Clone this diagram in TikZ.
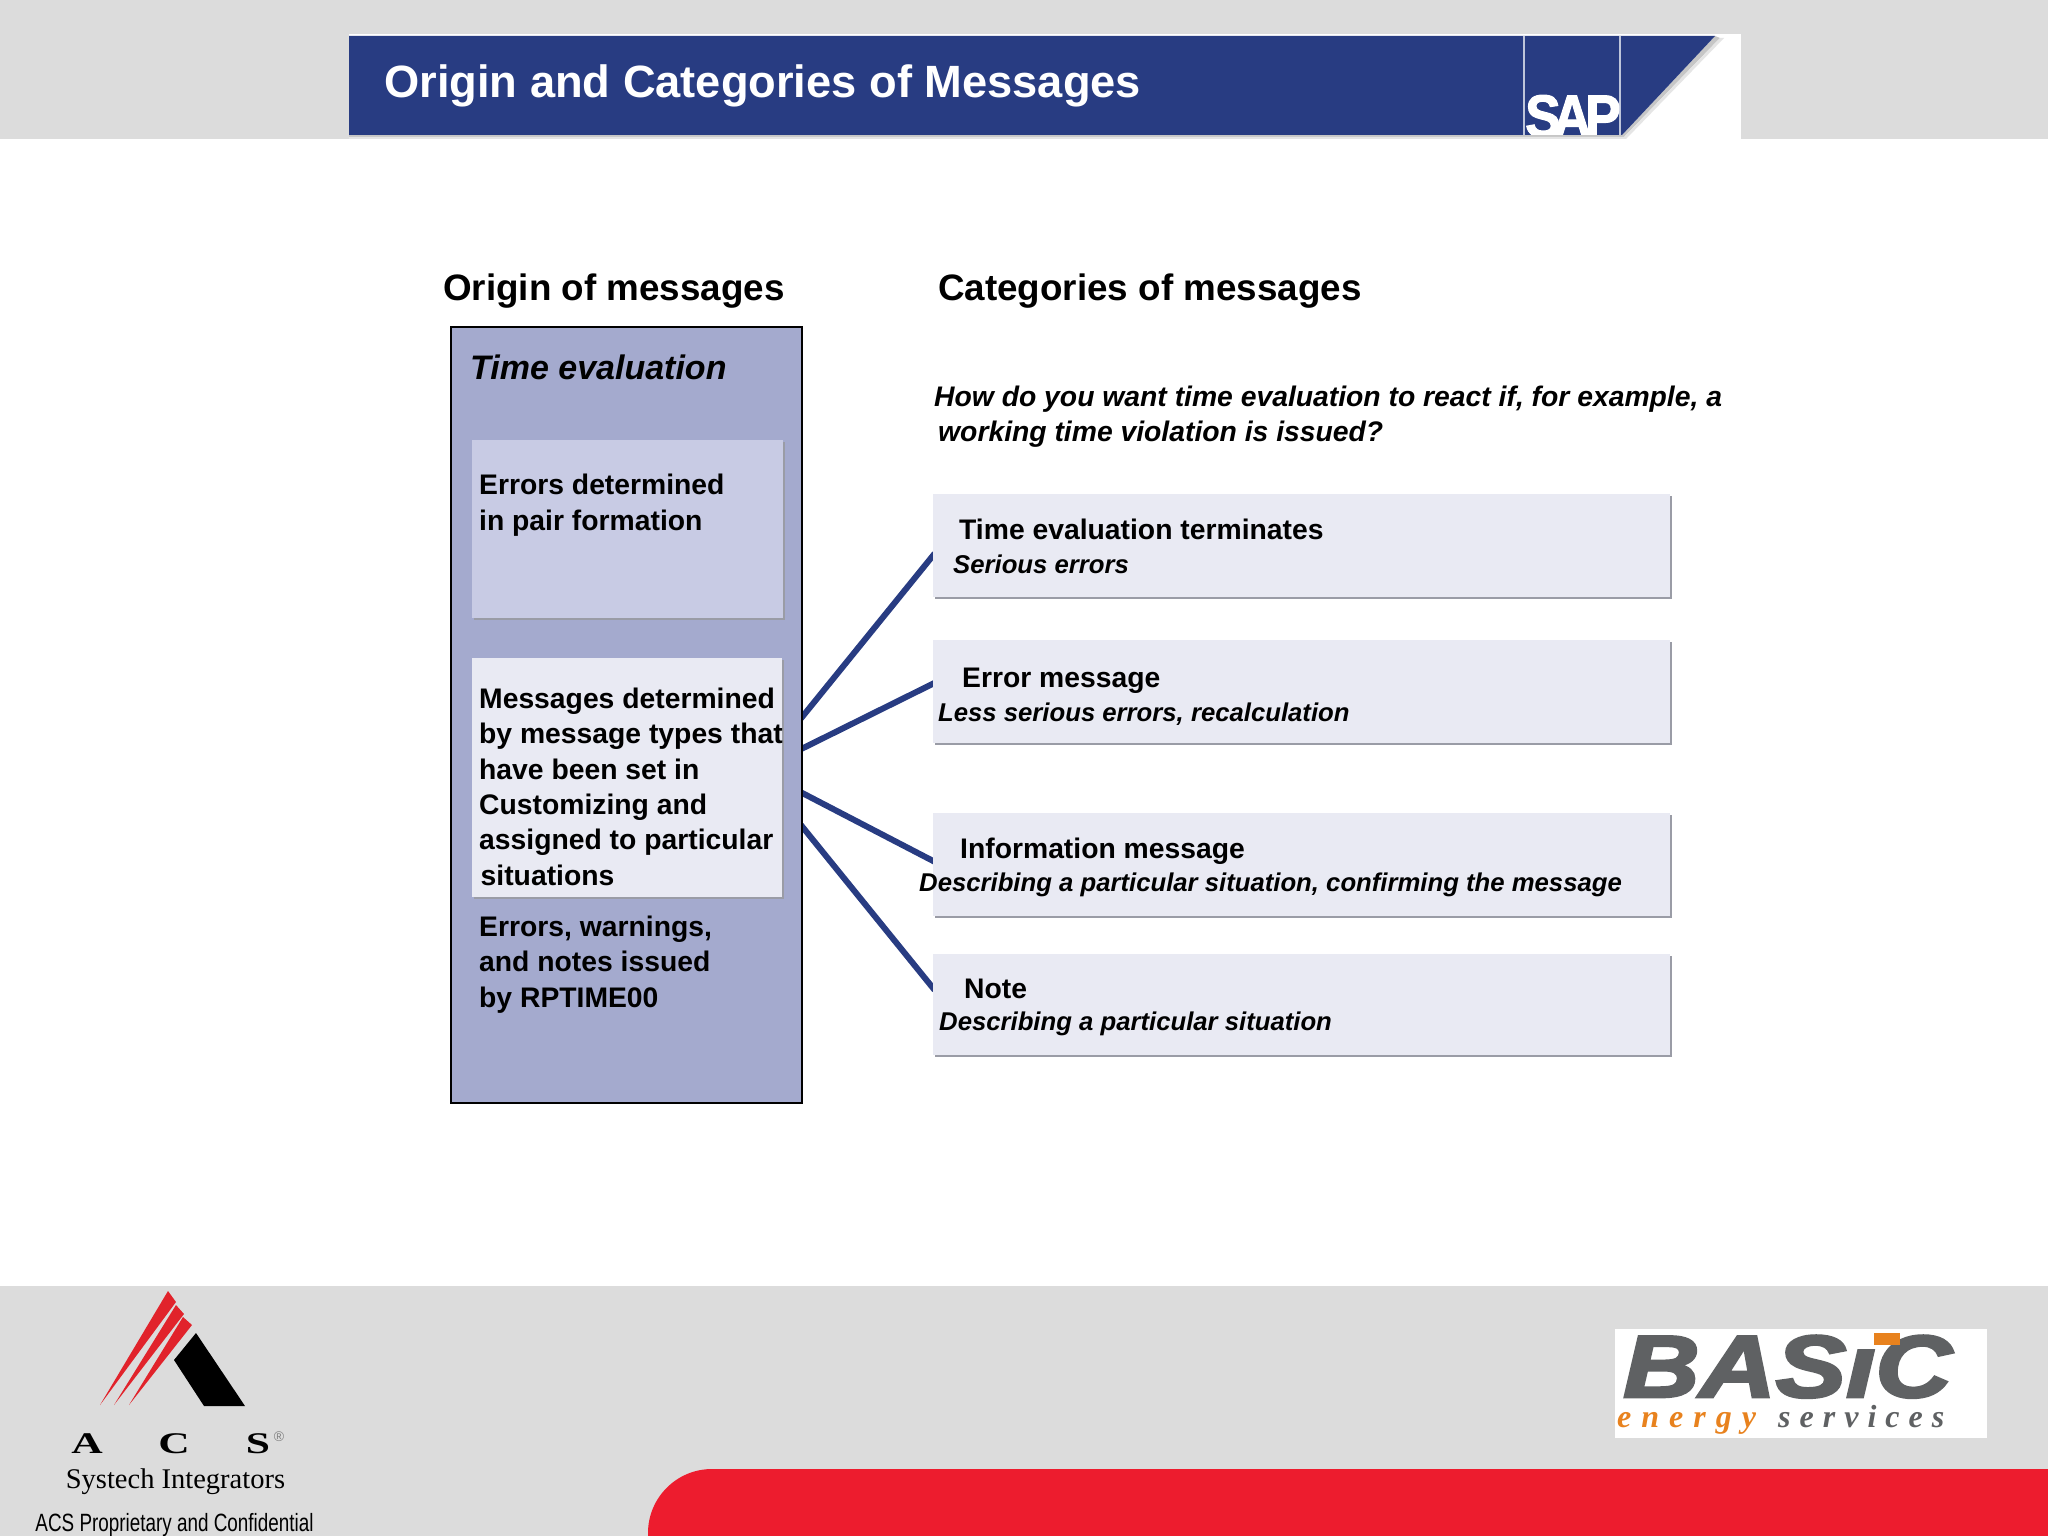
\documentclass[tikz,border=0pt]{standalone}
\usepackage{fontspec}
\setmainfont{Liberation Sans}
\newfontfamily\serifface{Liberation Serif}
\newfontfamily\sapface[FakeBold=2]{Liberation Sans Bold}
\newfontfamily\basicface[FakeBold=3]{Liberation Sans Bold Italic}
\usetikzlibrary{calc,shadows,backgrounds}
\definecolor{bandgray}{HTML}{DCDCDC}
\definecolor{sapblue}{HTML}{283C82}
\definecolor{panelblue}{HTML}{A4AACE}
\definecolor{midbox}{HTML}{C8CBE4}
\definecolor{lightbox}{HTML}{E9EAF3}
\definecolor{edgegray}{HTML}{9A9CA6}
\definecolor{acsred}{HTML}{E1232B}
\definecolor{bandred}{HTML}{ED1C2E}
\definecolor{basicgray}{HTML}{5F6163}
\definecolor{basicorange}{HTML}{E8821E}
\tikzset{
  x=1pt,y=-1pt,
  txt/.style={anchor=base west,inner sep=0pt,text=black},
  multi/.style={anchor=north west,inner sep=0pt,text=black,align=left},
  bodyfont/.style={font=\fontsize{28.3}{35.4}\selectfont\bfseries},
  itfont/.style={font=\fontsize{25.7}{30}\selectfont\bfseries\itshape},
  headfont/.style={font=\fontsize{36.8}{42}\selectfont\bfseries},
  softbox/.style={inner sep=0pt,draw=none,drop shadow={shadow xshift=2pt,shadow yshift=-2pt,fill=edgegray,opacity=1}},
  link/.style={draw=sapblue,line width=6pt,shorten <=-3pt,shorten >=-3pt},
}
\begin{document}
\begin{tikzpicture}
\useasboundingbox (0,0) rectangle (2048,1536);
% bands
\fill[bandgray] (0,0) rectangle (2048,139);
\fill[bandgray] (0,1286) rectangle (2048,1536);
\fill[white] (349,34) rectangle (1741,139);
\fill[bandred] (2048,1469) -- (712,1469) arc[start angle=270,end angle=180,radius=64] -- (648,1536) -- (2048,1536) -- cycle;
% title bar
\fill[gray!45] (349,137) -- (1624,137) -- (1720,38) -- (1715,36) -- (1622,135) -- (349,135) -- cycle;
\fill[gray!20] (349,139) -- (1626,139) -- (1724,38) -- (1720,38) -- (1624,137) -- (349,137) -- cycle;
\fill[sapblue] (349,36) -- (1715,36) -- (1622,135) -- (349,135) -- cycle;
\draw[white!70!sapblue,line width=1.5pt] (1524,36) -- (1524,135);
\draw[white!70!sapblue,line width=1.5pt] (1620,36) -- (1620,135);
\begin{scope}
\clip (1524,36) rectangle (1621,135);
\node[anchor=base west,inner sep=0pt,text=white,font=\sapface\fontsize{60}{60}\selectfont,xscale=.89] (saplogo) at (1525,137) {S\kern-9pt A\kern-7pt P};
\end{scope}
\node[txt,text=white,font=\fontsize{45.25}{50}\selectfont\bfseries] (title) at (384,98) {Origin and Categories of Messages};
% headings
\node[txt,headfont] (hleft) at (443,300) {Origin of messages};
\node[txt,headfont] (hright) at (938,300) {Categories of messages};
% left panel
\node[draw=black,line width=1.5pt,fill=panelblue,minimum width=351pt,minimum height=776pt,inner sep=0pt] (panel) at (626.5,715) {};
\node[txt,font=\fontsize{34}{40}\selectfont\bfseries\itshape] (timeeval) at (470,379) {Time evaluation};
\node[softbox,fill=midbox,minimum width=311pt,minimum height=178pt] (pairbox) at (627.5,529) {};
\node[softbox,fill=lightbox,minimum width=310pt,minimum height=239pt] (msgbox) at (627,777.5) {};
\node[multi,bodyfont] (pairtxt) at (479,474) {Errors determined\\in pair formation};
\node[multi,bodyfont] (msgtxt) at (479,687.5) {Messages determined\\by message types that\\have been set in\\Customizing and\\assigned to particular\\\hspace*{1.5pt}situations};
\node[multi,bodyfont] (rptxt) at (479,915.5) {Errors, warnings,\\and notes issued\\by RPTIME00};
% question
\node[multi,font=\fontsize{28.3}{35.2}\selectfont\bfseries\itshape] (question) at (934,386) {How do you want time evaluation to react if, for example, a\\\hspace*{4pt}working time violation is issued?};
% right boxes
\node[softbox,fill=lightbox,minimum width=737pt,minimum height=103pt] (r1) at (1301.5,545.5) {};
\node[softbox,fill=lightbox,minimum width=737pt,minimum height=103pt] (r2) at (1301.5,691.5) {};
\node[softbox,fill=lightbox,minimum width=737pt,minimum height=103pt] (r3) at (1301.5,864.5) {};
\node[softbox,fill=lightbox,minimum width=737pt,minimum height=101pt] (r4) at (1301.5,1004.5) {};
\node[txt,bodyfont] (r1a) at (959,539) {Time evaluation terminates};
\node[txt,itfont] (r1b) at (953,573) {Serious errors};
\node[txt,bodyfont] (r2a) at (962,687) {Error message};
\node[txt,itfont] (r2b) at (938,721) {Less serious errors, recalculation};
\node[txt,bodyfont] (r3a) at (960,858) {Information message};
\node[txt,itfont] (r3b) at (919,891) {Describing a particular situation, confirming the message};
\node[txt,bodyfont] (r4a) at (964,998) {Note};
\node[txt,itfont] (r4b) at (939,1030) {Describing a particular situation};
% connectors, behind the panel and the boxes
\begin{scope}[on background layer]
\draw[link] ($(panel.north east)+(0,390)$) -- ($(r1.north west)+(0,62)$);
\draw[link] ($(panel.north east)+(0,422)$) -- ($(r2.north west)+(0,44)$);
\draw[link] ($(panel.north east)+(0,467)$) -- ($(r3.north west)+(0,48)$);
\draw[link] ($(panel.north east)+(0,501)$) -- ($(r4.north west)+(0,34)$);
\end{scope}
% ACS logo
\fill[acsred] (100,1405) -- (168,1291) -- (176,1302) -- cycle;
\fill[acsred] (114,1405) -- (176,1305) -- (184,1314) -- cycle;
\fill[acsred] (129,1405) -- (183,1317) -- (192,1325) -- cycle;
\fill[black] (196,1333) -- (245,1406) -- (204,1406) -- (174,1360) -- cycle;
\node[anchor=base,inner sep=0pt,font=\serifface\fontsize{30}{30}\selectfont\bfseries,xscale=1.45] (acsa) at (87,1453) {A};
\node[anchor=base,inner sep=0pt,font=\serifface\fontsize{30}{30}\selectfont\bfseries,xscale=1.45] (acsc) at (174,1453) {C};
\node[anchor=base,inner sep=0pt,font=\serifface\fontsize{30}{30}\selectfont\bfseries,xscale=1.45] (acss) at (258,1453) {S};
\node[anchor=center,inner sep=0pt,text=gray,font=\fontsize{14}{14}\selectfont] (acsr) at (279,1437) {®};
\node[anchor=base,inner sep=0pt,font=\serifface\fontsize{28.5}{32}\selectfont] (systech) at (175.5,1488) {Systech Integrators};
\node[anchor=base,inner sep=0pt,font=\fontsize{25}{28}\selectfont,xscale=.755] (conf) at (174.5,1531) {ACS Proprietary and Confidential};
% BASIC logo
\fill[white] (1615,1329) rectangle (1987,1438);
\node[anchor=base west,inner sep=0pt,text=basicgray,font=\basicface\fontsize{88}{88}\selectfont,xscale=1.2] (basic) at (1623,1397) {BASıC};
\fill[basicorange] (1874,1333) rectangle (1900,1345);
\node[anchor=base west,inner sep=0pt,text=basicorange,font=\serifface\fontsize{32}{32}\selectfont\bfseries\itshape] (energy) at (1617,1427) {e\hspace{10pt}n\hspace{10pt}e\hspace{10pt}r\hspace{10pt}g\hspace{10pt}y};
\node[anchor=base west,inner sep=0pt,text=basicgray,font=\serifface\fontsize{32}{32}\selectfont\bfseries\itshape] (services) at (1778,1427) {s\hspace{9pt}e\hspace{9pt}r\hspace{9pt}v\hspace{9pt}i\hspace{9pt}c\hspace{9pt}e\hspace{9pt}s};
\end{tikzpicture}
\end{document}
